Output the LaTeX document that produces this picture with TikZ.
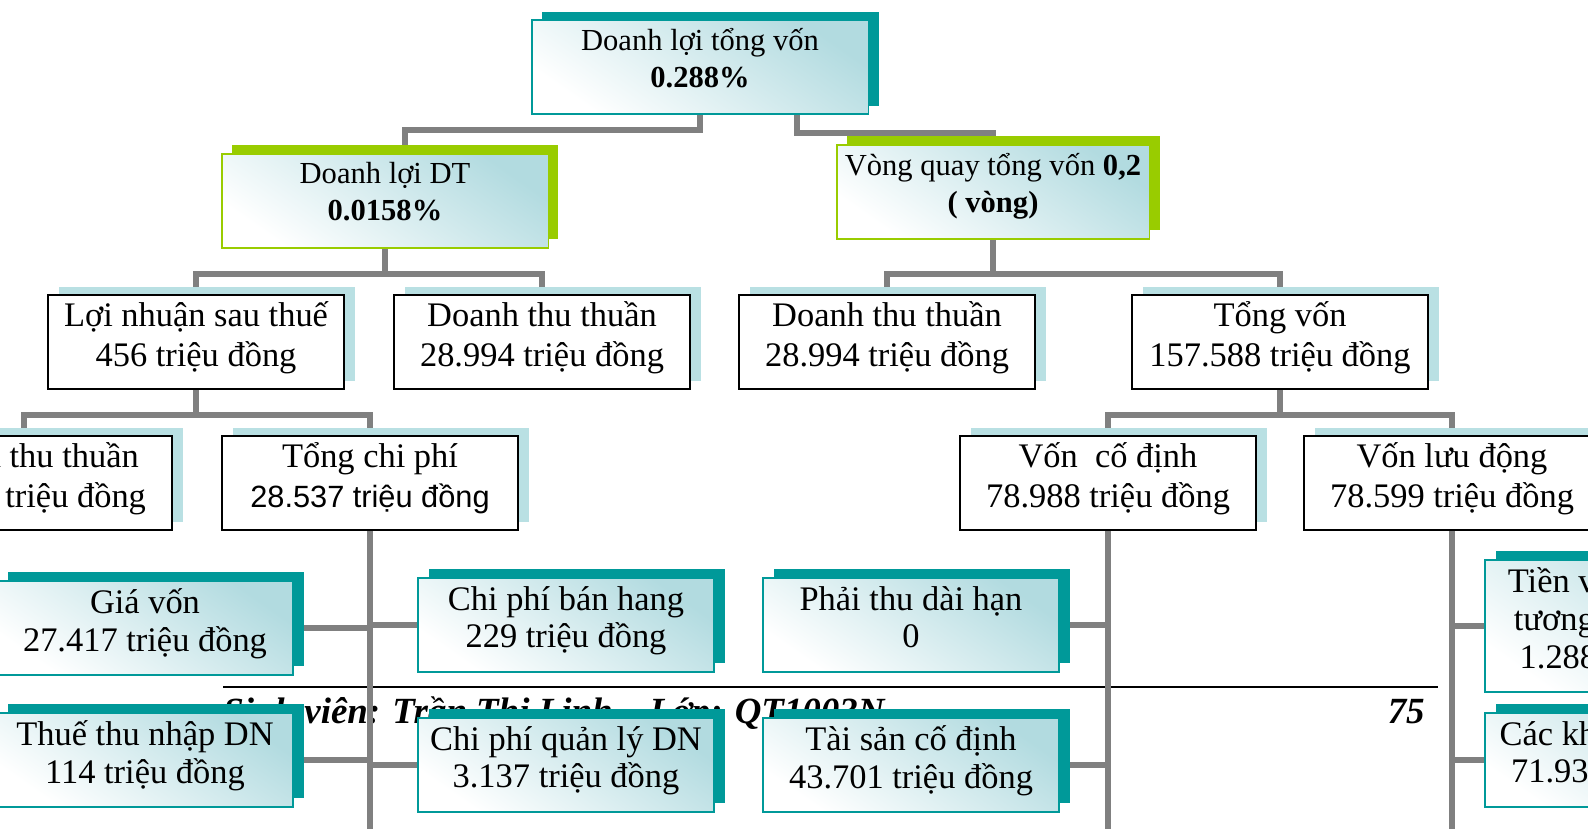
\documentclass[tikz,border=0pt]{standalone}
\usepackage{fontspec}
\setmainfont{Liberation Serif}
\newfontfamily\arialfont{Liberation Sans}
\usetikzlibrary{shadows}

\definecolor{tealshade}{RGB}{0,153,153}
\definecolor{limeshade}{RGB}{153,204,0}
\definecolor{paleshade}{RGB}{185,224,227}
\definecolor{boxtint}{RGB}{178,219,224}
\definecolor{linkgray}{RGB}{128,128,128}

\pgfdeclarelayer{paper}
\pgfdeclarelayer{links}
\pgfsetlayers{paper,links,main}

\begin{document}
\begin{tikzpicture}[
  x=0.02cm,y=-0.02cm,
  box/.style={rectangle,minimum width=5.92cm,minimum height=1.88cm,
    inner xsep=2pt,inner ysep=0pt,align=center,text depth=9pt},
  tinted/.style={bottom color=white,top color=boxtint,shading angle=-35},
  ratiobox/.style={box,tinted,line width=1.1pt,text depth=10.5pt,
    font=\fontsize{17.4}{21}\selectfont},
  topbox/.style={ratiobox,draw=tealshade,minimum width=6.74cm,
    general shadow={fill=tealshade,shadow xshift=6.2pt,shadow yshift=4.5pt}},
  limebox/.style={ratiobox,draw=limeshade,
    general shadow={fill=limeshade,shadow xshift=5.7pt,shadow yshift=5.4pt}},
  valuebox/.style={box,draw=black,fill=white,line width=1.1pt,
    font=\fontsize{19.6}{22.5}\selectfont,
    general shadow={fill=paleshade,shadow xshift=6.2pt,shadow yshift=4.5pt}},
  itembox/.style={box,tinted,draw=tealshade,line width=1.1pt,
    font=\fontsize{19.6}{21.5}\selectfont,
    general shadow={fill=tealshade,shadow xshift=6.2pt,shadow yshift=5pt}},
  link/.style={draw=linkgray,line width=3.3pt}
]
  \useasboundingbox (0,0) rectangle (1588,828);

  % page footer under the chart
  \begin{pgfonlayer}{paper}
    \fill[white] (0,0) rectangle (1588,828);
    \draw[line width=1.5pt] (223,687) -- (1438,687);
    \node[anchor=base west,inner sep=0pt,font=\fontsize{21}{25}\selectfont\bfseries\itshape]
      (footer) at (223,723) {Sinh viên: Trần Thị Linh – Lớp: QT1003N};
    \node[anchor=base east,inner sep=0pt,font=\fontsize{21}{25}\selectfont\bfseries\itshape]
      (pageno) at (1425,723) {75};
  \end{pgfonlayer}

  % ratios
  \node[topbox] (dltv) at (700,67) {Doanh lợi tổng vốn\\\textbf{0.288\%}};
  \node[limebox,minimum width=6.54cm] (dldt) at (385,201) {Doanh lợi DT\\\textbf{0.0158\%}};
  \node[limebox,minimum width=6.26cm] (vqtv) at (993,192) {Vòng quay tổng vốn \textbf{0,2}\\\textbf{( vòng)}};

  % values
  \node[valuebox] (lnst) at (196,342) {Lợi nhuận sau thuế\\456 triệu đồng};
  \node[valuebox] (dtt1) at (542,342) {Doanh thu thuần\\28.994 triệu đồng};
  \node[valuebox] (dtt2) at (887,342) {Doanh thu thuần\\28.994 triệu đồng};
  \node[valuebox] (tongvon) at (1280,342) {Tổng vốn\\157.588 triệu đồng};
  \node[valuebox] (dtt3) at (24,483) {Doanh thu thuần\\28.994 triệu đồng};
  \node[valuebox] (tcp) at (370,483) {Tổng chi phí\\{\arialfont\fontsize{17.5}{22}\selectfont 28.537 triệu đồng}};
  \node[valuebox] (vcd) at (1108,483) {Vốn~~cố định\\78.988 triệu đồng};
  \node[valuebox] (vld) at (1452,483) {Vốn lưu động\\78.599 triệu đồng};

  % items
  \node[itembox] (giavon) at (145,628) {Giá vốn\\27.417 triệu đồng};
  \node[itembox] (thue) at (145,760) {Thuế thu nhập DN\\114 triệu đồng};
  \node[itembox] (cpbh) at (566,625) {Chi phí bán hang\\229 triệu đồng};
  \node[itembox] (cpql) at (566,765) {Chi phí quản lý DN\\3.137 triệu đồng};
  \node[itembox] (ptdh) at (911,625) {Phải thu dài hạn\\0};
  \node[itembox] (tscd) at (911,765) {Tài sản cố định\\43.701 triệu đồng};
  \node[itembox,minimum height=2.64cm] (tien) at (1633,626) {Tiền và các khoản\\tương đương tiền\\1.288 triệu đồng};
  \node[itembox] (ckpt) at (1633,760) {Các khoản phải thu\\71.936 triệu đồng};

  \begin{pgfonlayer}{links}
    \draw[link] (dltv.south) -- ++(0,15) -| ([xshift=11.3pt]dldt.north);
    \draw[link] (dltv.south) ++(97,0) -- ++(0,18) -| (vqtv.north);
    \draw[link] (dldt.south) -- ++(0,25) coordinate (dtfork) -| (lnst.north);
    \draw[link] (dtfork) -| (dtt1.north);
    \draw[link] (vqtv.south) -- ++(0,34) coordinate (vqfork) -| (dtt2.north);
    \draw[link] (vqfork) -| (tongvon.north);
    \draw[link] (lnst.south) -- ++(0,25) coordinate (lnfork) -| (dtt3.north);
    \draw[link] (lnfork) -| (tcp.north);
    \draw[link] (tongvon.south) -- ++(0,25) coordinate (tvfork) -| (vcd.north);
    \draw[link] (tvfork) -| (vld.north);
    % spines
    \draw[link] (tcp.south) -- ++(0,320);
    \draw[link] (vcd.south) -- ++(0,320);
    \draw[link] (vld.south) -- ++(0,320);
    \draw[link] (giavon.east) -- (giavon.east -| tcp.south);
    \draw[link] (thue.east) -- (thue.east -| tcp.south);
    \draw[link] (cpbh.west) -- (cpbh.west -| tcp.south);
    \draw[link] (cpql.west) -- (cpql.west -| tcp.south);
    \draw[link] (ptdh.east) -- (ptdh.east -| vcd.south);
    \draw[link] (tscd.east) -- (tscd.east -| vcd.south);
    \draw[link] (tien.west) -- (tien.west -| vld.south);
    \draw[link] (ckpt.west) -- (ckpt.west -| vld.south);
  \end{pgfonlayer}
\end{tikzpicture}
\end{document}
